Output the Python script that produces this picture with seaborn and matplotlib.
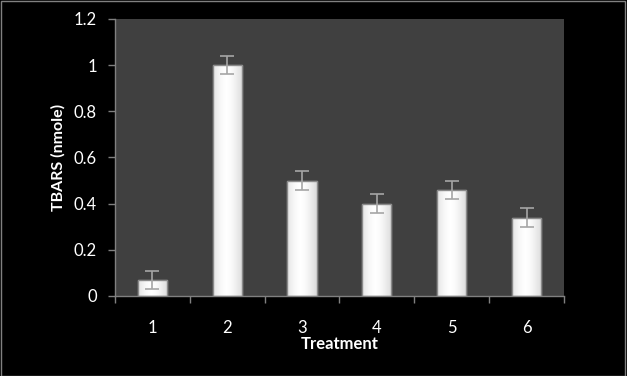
import matplotlib
matplotlib.use("Agg")
import matplotlib.pyplot as plt
import seaborn as sns
import pandas as pd
import numpy as np
from matplotlib.patches import Rectangle

treatments = ["1", "2", "3", "4", "5", "6"]
tbars = [0.07, 1.0, 0.5, 0.4, 0.46, 0.34]
errors = [0.04, 0.04, 0.04, 0.04, 0.04, 0.04]
yticks = [0, 0.2, 0.4, 0.6, 0.8, 1, 1.2]
ytick_labels = ["0", "0.2", "0.4", "0.6", "0.8", "1", "1.2"]

sns.set_theme(style="dark")
plt.rcParams['font.family'] = ['Lato', 'DejaVu Sans']

df = pd.DataFrame({"Treatment": treatments, "TBARS": tbars})

fig = plt.figure(figsize=(6.27, 3.76), dpi=100, facecolor="black")
ax = fig.add_axes([0.1834, 0.2128, 0.7161, 0.7367])
ax.set_facecolor("#404040")

sns.barplot(data=df, x="Treatment", y="TBARS", ax=ax, color="#f2f2f2",
            width=0.39, edgecolor="#8a8a8a", linewidth=1.0, saturation=1, errorbar=None)

# gradient fill clipped to bars
grad = np.linspace(0, 1, 256)
grad = 1 - 0.18 * np.abs(grad - 0.45) ** 1.5 * 2
img = np.tile(grad, (2, 1))
for p in ax.patches:
    x0, y0 = p.get_x(), p.get_y()
    w, h = p.get_width(), p.get_height()
    im = ax.imshow(img, cmap="gray", vmin=0, vmax=1, aspect="auto",
                   extent=[x0, x0 + w, y0, y0 + h], zorder=p.get_zorder() + 0.1)
    im.set_clip_path(p)
    ax.add_patch(Rectangle((x0, y0), w, h, fill=False, edgecolor="#8a8a8a",
                           linewidth=1.0, zorder=p.get_zorder() + 0.2))

xs = np.arange(len(treatments))
ax.errorbar(xs, tbars, yerr=errors, fmt="none", ecolor="#a6a6a6",
            elinewidth=1.2, capsize=5, capthick=1.2, zorder=5)

ax.set_xlim(-0.5, len(treatments) - 0.5)
ax.set_ylim(0, 1.2)
ax.set_yticks(yticks)
ax.set_yticklabels(ytick_labels)
ax.set_xticks(xs)
ax.set_xticklabels(treatments)
ax.set_xticks(np.arange(-0.5, len(treatments)), minor=True)
ax.tick_params(axis="x", which="major", length=0, pad=17, colors="white", labelsize=12)
ax.tick_params(axis="x", which="minor", length=5, width=1, color="#808080", direction="out", bottom=True)
ax.tick_params(axis="y", length=5, width=1, color="#808080", direction="out", left=True,
               colors="white", labelsize=12, pad=8)
ax.tick_params(axis="y", color="#808080")
ax.tick_params(axis="x", which="minor", color="#808080")
ax.grid(False)
for s in ["top", "right"]:
    ax.spines[s].set_visible(False)
for s in ["left", "bottom"]:
    ax.spines[s].set_color("#808080")
    ax.spines[s].set_linewidth(1)

ax.set_xlabel("Treatment", color="white", fontsize=12, fontweight="bold", labelpad=0)
ax.set_ylabel("TBARS (nmole)", color="white", fontsize=11.5, fontweight="bold", labelpad=6)

fig.patches.append(Rectangle((0.001, 0.001), 0.996, 0.996, transform=fig.transFigure,
                             fill=False, edgecolor="#808080", linewidth=1))

fig.savefig("out.png", dpi=100, facecolor="black")
